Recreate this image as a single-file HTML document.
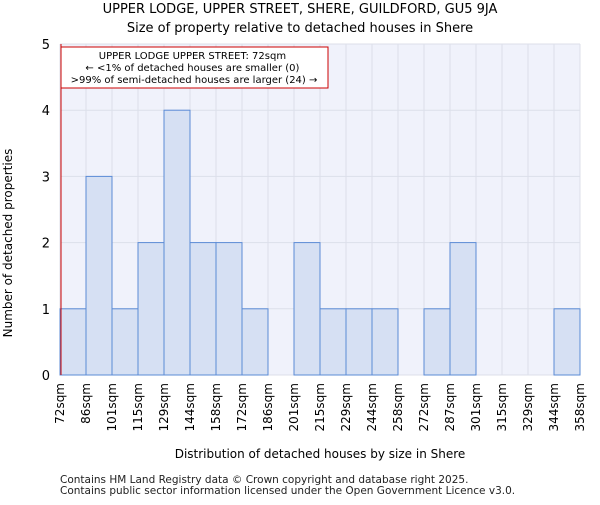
<!DOCTYPE html>
<html><head><meta charset="utf-8"><style>
body{margin:0;background:#fff}
svg{font-family:"DejaVu Sans","Liberation Sans",sans-serif}
</style></head><body>
<svg width="600" height="500" viewBox="0 0 600 500">
<text x="300" y="13" text-anchor="middle" font-size="13">UPPER LODGE, UPPER STREET, SHERE, GUILDFORD, GU5 9JA</text>
<text x="300" y="32" text-anchor="middle" font-size="13">Size of property relative to detached houses in Shere</text>
<rect x="60" y="44" width="520" height="331" fill="#f0f2fb"/>
<g id="grid"></g>
<g id="bars"></g>
<g id="yticks"></g>
<g id="xticks"></g>
<line x1="61" y1="44" x2="61" y2="375" stroke="#cc0000" stroke-width="1"/>
<rect x="61" y="47" width="267" height="41" fill="#fff" stroke="#cc0000" stroke-width="1"/>
<text font-size="10" text-anchor="middle">
<tspan x="194" y="59">UPPER LODGE UPPER STREET: 72sqm</tspan>
<tspan x="194" y="71">← &lt;1% of detached houses are smaller (0)</tspan>
<tspan x="194" y="83">&gt;99% of semi-detached houses are larger (24) →</tspan>
</text>
<text transform="translate(12,243) rotate(-90)" text-anchor="middle" font-size="12">Number of detached properties</text>
<text x="320" y="458" text-anchor="middle" font-size="12">Distribution of detached houses by size in Shere</text>
<text x="60" y="483" font-size="10.5" fill="#222">Contains HM Land Registry data © Crown copyright and database right 2025.</text>
<text x="60" y="494" font-size="10.5" fill="#222">Contains public sector information licensed under the Open Government Licence v3.0.</text>
</svg>
<script>
const categories=["72sqm","86sqm","101sqm","115sqm","129sqm","144sqm","158sqm","172sqm","186sqm","201sqm","215sqm","229sqm","244sqm","258sqm","272sqm","287sqm","301sqm","315sqm","329sqm","344sqm","358sqm"];
const counts=[1,3,1,2,4,2,2,1,0,2,1,1,1,0,1,2,0,0,0,1];
const yTicks=[0,1,2,3,4,5];
const NS="http://www.w3.org/2000/svg";
const x0=60,x1=580,y0=375,y1=44,yMax=5;
const bw=(x1-x0)/counts.length;
const xs=i=>x0+i*bw;
const ys=v=>y0-(v/yMax)*(y0-y1);
function mk(t,a,p){const e=document.createElementNS(NS,t);for(const k in a)e.setAttribute(k,a[k]);document.getElementById(p).appendChild(e);return e;}
for(let i=0;i<=counts.length;i++){const g=mk("line",{x1:xs(i),x2:xs(i),y1:y1,y2:y0,stroke:"#dcdfea","stroke-width":1},"grid");

}
yTicks.forEach(v=>{const g=mk("line",{x1:x0,x2:x1,y1:ys(v),y2:ys(v),stroke:"#dcdfea","stroke-width":1},"grid");


const t=mk("text",{x:x0-10,y:ys(v)+5,"text-anchor":"end","font-size":13},"yticks");t.textContent=v;

});
counts.forEach((c,i)=>{if(c<=0)return;const r=mk("rect",{x:xs(i),y:ys(c),width:bw,height:y0-ys(c),fill:"#d6e0f3",stroke:"#5b8bd6","stroke-width":1},"bars");

});
categories.forEach((c,i)=>{const x=xs(i),t=mk("text",{transform:`translate(${x+4},${y0+8}) rotate(-90)`,"text-anchor":"end","font-size":12},"xticks");t.textContent=c;

});
</script>
</body></html>
